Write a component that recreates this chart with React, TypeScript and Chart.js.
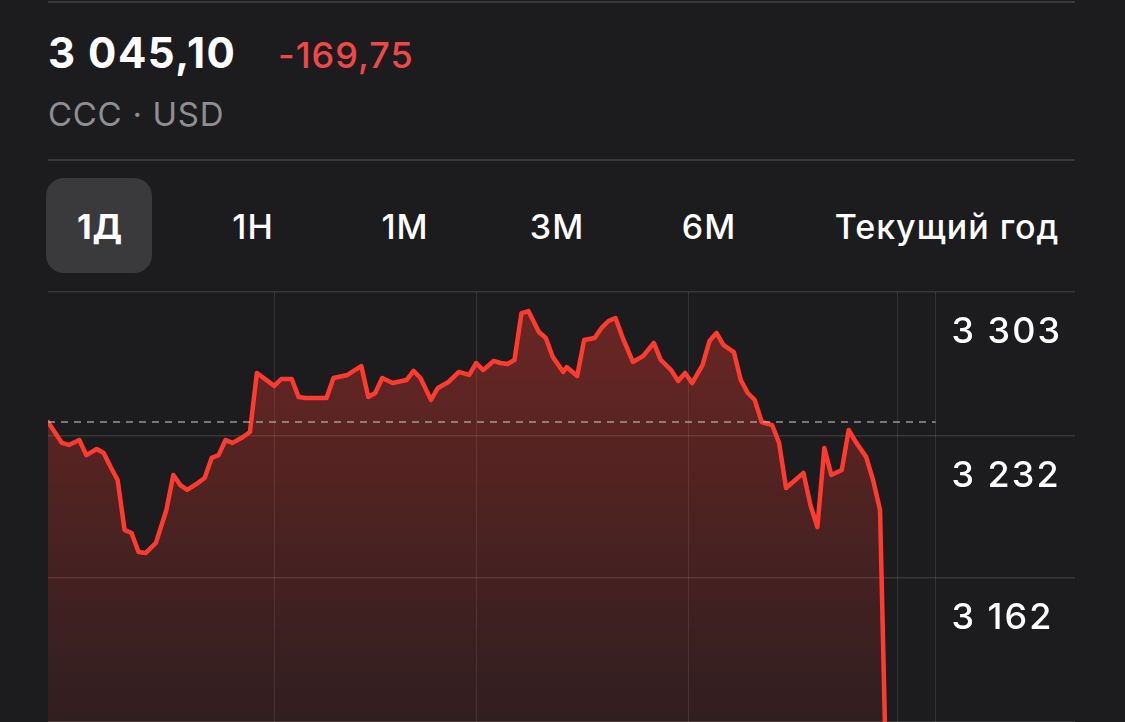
import React, { useEffect, useRef } from "react";
import { Chart, registerables } from "chart.js";

Chart.register(...registerables);

// ---- data ----
const priceMinutes = [
  0, 4, 6, 9, 11, 14, 16, 18, 20, 22, 24, 26, 28, 31, 34, 36, 38, 40, 43, 45, 47, 49, 51, 53, 56, 58,
  60, 65, 67, 70, 72, 74, 76, 80, 82, 86, 90, 92, 94, 96, 99, 103, 105, 107, 110, 112, 115, 118, 121,
  123, 125, 128, 130, 132, 134, 136, 138, 141, 143, 145, 148, 149, 152, 154, 157, 159, 161, 163, 165,
  168, 171, 174, 176, 179, 181, 183, 185, 188, 190, 192, 194, 197, 199, 201, 203, 205, 208, 210, 212,
  214, 217, 219, 221, 223, 225, 228, 230, 232, 235, 237, 239, 241,
];
const priceValues = [
  3238.9, 3228.6, 3227.6, 3230.0, 3222.6, 3225.6, 3223.6, 3216.7, 3210.3, 3185.7, 3184.2, 3174.8, 3174.3,
  3179.3, 3195.5, 3212.8, 3207.8, 3205.4, 3208.8, 3211.3, 3221.2, 3222.6, 3230.0, 3228.6, 3231.5, 3234.0,
  3263.1, 3256.7, 3260.1, 3260.1, 3251.2, 3250.7, 3250.7, 3250.7, 3260.6, 3262.1, 3266.5, 3251.2, 3253.2,
  3260.6, 3258.1, 3259.6, 3264.1, 3260.6, 3249.8, 3255.7, 3258.6, 3263.6, 3262.1, 3268.0, 3264.5, 3269.0,
  3268.0, 3267.5, 3269.5, 3292.6, 3293.6, 3283.3, 3280.3, 3271.0, 3263.6, 3266.0, 3261.6, 3279.3, 3280.3,
  3285.3, 3288.7, 3290.2, 3280.8, 3268.5, 3271.5, 3277.9, 3269.5, 3264.5, 3259.1, 3263.1, 3258.1, 3267.0,
  3278.8, 3282.8, 3276.9, 3273.4, 3259.6, 3253.2, 3249.8, 3238.9, 3237.4, 3228.6, 3206.4, 3209.3, 3213.8,
  3198.0, 3187.1, 3226.1, 3212.8, 3215.2, 3235.0, 3229.1, 3221.7, 3210.3, 3195.5, 3045.1,
];
const previousCloseLine = 3238.9;
const sessionEnd = 255;
const axisEnd = 295;
const hourMarks = [65, 123, 184, 244];
const yTickValues = [3303, 3232, 3162, 3091];
const rangeTabs = ["1Д", "1Н", "1М", "3М", "6М", "Текущий год"];
const lastPrice = "3 045,10";
const change = "-169,75";
const tickerLine = "CCC · USD";

const FONT = 'Inter, "Noto Sans", "DejaVu Sans", sans-serif';
const tabCenters = [100, 253, 405, 557, 709, 947];

function fmt(v: number): string {
  return String(Math.round(v)).replace(/\B(?=(\d{3})+(?!\d))/g, " ");
}

const zeroFit = (dim: "width" | "height") => (scale: any) => {
  scale[dim] = 0;
  scale.paddingTop = 0;
  scale.paddingBottom = 0;
  scale.paddingLeft = 0;
  scale.paddingRight = 0;
};

const setSpacing = (chart: any) => {
  try {
    (chart.ctx as any).letterSpacing = "2px";
  } catch (e) {}
};

const spacingPlugin = {
  id: "labelSpacing",
  beforeUpdate: setSpacing,
  beforeLayout: setSpacing,
  beforeDraw: setSpacing,
};

export default function App() {
  const canvasRef = useRef<HTMLCanvasElement | null>(null);

  useEffect(() => {
    const canvas = canvasRef.current;
    if (!canvas) return;
    const chart = new Chart(canvas, {
      type: "line",
      plugins: [spacingPlugin],
      data: {
        datasets: [
          {
            label: "prev",
            data: [
              { x: 0, y: previousCloseLine },
              { x: sessionEnd, y: previousCloseLine },
            ],
            borderColor: "rgba(190,190,195,0.75)",
            borderWidth: 1.5,
            borderDash: [7, 6],
            pointRadius: 0,
            fill: false,
            order: 0,
          },
          {
            label: "price",
            data: priceMinutes.map((m, i) => ({ x: m, y: priceValues[i] })),
            borderColor: "#ff3b30",
            borderWidth: 4.5,
            borderJoinStyle: "round",
            borderCapStyle: "round",
            pointRadius: 0,
            tension: 0,
            fill: "start",
            order: 1,
            backgroundColor: (ctx: any) => {
              const { chart } = ctx;
              const area = chart.chartArea;
              if (!area) return "rgba(255,59,48,0.2)";
              const g = chart.ctx.createLinearGradient(0, area.top, 0, area.bottom);
              g.addColorStop(0, "rgba(255,59,48,0.36)");
              g.addColorStop(0.5, "rgba(255,59,48,0.22)");
              g.addColorStop(1, "rgba(255,59,48,0.09)");
              return g;
            },
          },
        ],
      },
      options: {
        animation: false,
        responsive: false,
        maintainAspectRatio: false,
        layout: { padding: { top: 10, left: 48, right: 50, bottom: 0 } },
        plugins: {
          legend: { display: false },
          tooltip: { enabled: false },
          filler: { drawTime: "beforeDatasetsDraw", propagate: false },
        } as any,
        scales: {
          x: {
            type: "linear",
            min: 0,
            max: axisEnd,
            afterBuildTicks: (scale: any) => {
              scale.ticks = [...hourMarks, sessionEnd].map((v) => ({ value: v }));
            },
            afterFit: zeroFit("height"),
            ticks: { display: false },
            grid: { color: "rgba(255,255,255,0.1)", lineWidth: 1, drawTicks: false },
            border: { display: false },
          },
          y: {
            type: "linear",
            position: "right",
            min: yTickValues[yTickValues.length - 1],
            max: yTickValues[0],
            afterBuildTicks: (scale: any) => {
              scale.ticks = yTickValues.map((v) => ({ value: v }));
            },
            afterFit: zeroFit("width"),
            ticks: {
              mirror: true,
              crossAlign: "far",
              padding: -13,
              labelOffset: 40,
              color: "#ffffff",
              font: { family: FONT, size: 36, weight: "500" as any },
              callback: (v: any) => fmt(Number(v)),
            },
            grid: { color: "rgba(255,255,255,0.12)", lineWidth: 1.5, drawTicks: false },
            border: { display: false },
          },
        },
      } as any,
    });
    return () => chart.destroy();
  }, []);

  const divider = (top: number) => (
    <div
      style={{
        position: "absolute",
        left: 48,
        width: 1027,
        top,
        height: 2,
        background: "#38383a",
      }}
    />
  );

  return (
    <div
      style={{
        position: "fixed",
        left: 0,
        top: 0,
        width: 1125,
        height: 722,
        background: "#1c1c1e",
        overflow: "hidden",
        fontFamily: FONT,
      }}
    >
      {divider(1)}
      <div
        style={{
          position: "absolute",
          left: 48,
          top: 32,
          fontSize: 42,
          lineHeight: 1,
          fontWeight: 700,
          letterSpacing: 1.5,
          color: "#ffffff",
          whiteSpace: "nowrap",
        }}
      >
        {lastPrice}
      </div>
      <div
        style={{
          position: "absolute",
          left: 278,
          top: 37,
          fontSize: 36,
          lineHeight: 1,
          fontWeight: 500,
          letterSpacing: 1,
          color: "#f04848",
          whiteSpace: "nowrap",
        }}
      >
        {change}
      </div>
      <div
        style={{
          position: "absolute",
          left: 48,
          top: 98,
          fontSize: 33,
          lineHeight: 1,
          fontWeight: 400,
          letterSpacing: 0.7,
          color: "#8e8e93",
          whiteSpace: "nowrap",
        }}
      >
        {tickerLine}
      </div>
      {divider(159)}
      <div
        style={{
          position: "absolute",
          left: 46,
          top: 178,
          width: 106,
          height: 95,
          borderRadius: 18,
          background: "#3a3a3c",
        }}
      />
      {rangeTabs.map((t, i) => (
        <div
          key={t}
          style={{
            position: "absolute",
            left: tabCenters[i],
            top: 210,
            transform: "translateX(-50%)",
            fontSize: 34,
            lineHeight: 1,
            fontWeight: i === 0 ? 700 : 500,
            letterSpacing: 1,
            color: "#ffffff",
            whiteSpace: "nowrap",
          }}
        >
          {t}
        </div>
      ))}
      <canvas
        ref={canvasRef}
        width={1125}
        height={440}
        style={{ position: "absolute", left: 0, top: 282, width: 1125, height: 440 }}
      />
    </div>
  );
}
